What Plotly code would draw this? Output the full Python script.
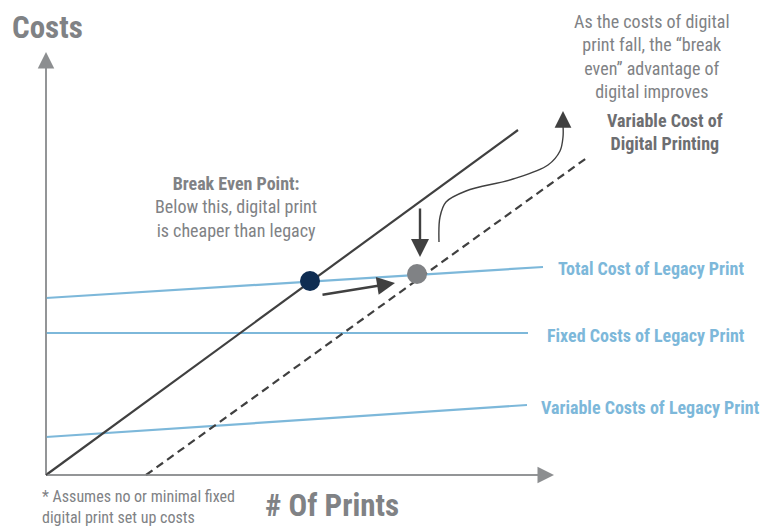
import plotly.graph_objects as go

# Conceptual coordinates: x = number of prints, y = costs (arbitrary units)
axis_x_end = 508
axis_y_end = 423

digital_x = [0, 472]
digital_y = [0, 345]
digital_new_x = [100, 542]
digital_new_y = [0, 318]

legacy_total_x = [0, 497]
legacy_total_y = [177, 208]
legacy_fixed_x = [0, 482]
legacy_fixed_y = [142, 142]
legacy_var_x = [0, 481]
legacy_var_y = [38, 70]

break_even = (264, 194)
break_even_new = (371, 201)

shift_down = {"x": [374, 374], "y": [268, 218]}
shift_right = {"x": [275, 349], "y": [180, 192]}
curve_x = [393, 394, 400, 420, 467, 502, 514, 517, 517]
curve_y = [233, 258, 273, 284, 296, 310, 324, 338, 350]
curve_tip = (517, 364)

FONT = "Liberation Sans Narrow, Roboto Condensed, Arial Narrow, sans-serif"
GRAY = "#808285"
AXIS = "#8c8e90"
DARK = "#404040"
BLUE = "#7db8da"
NAVY = "#0f2d52"

fig = go.Figure()

# axes
fig.add_trace(go.Scatter(x=[0, axis_x_end - 12], y=[0, 0], mode="lines",
                         line=dict(color=AXIS, width=1.5), hoverinfo="skip"))
fig.add_trace(go.Scatter(x=[0, 0], y=[0, axis_y_end - 12], mode="lines",
                         line=dict(color=AXIS, width=1.5), hoverinfo="skip"))

# legacy lines
for xs, ys in [(legacy_total_x, legacy_total_y), (legacy_fixed_x, legacy_fixed_y),
               (legacy_var_x, legacy_var_y)]:
    fig.add_trace(go.Scatter(x=xs, y=ys, mode="lines",
                             line=dict(color=BLUE, width=2.2), hoverinfo="skip"))

# digital lines
fig.add_trace(go.Scatter(x=digital_x, y=digital_y, mode="lines",
                         line=dict(color=DARK, width=2.2), hoverinfo="skip"))
fig.add_trace(go.Scatter(x=digital_new_x, y=digital_new_y, mode="lines",
                         line=dict(color=DARK, width=2.2, dash="8px,5px"), hoverinfo="skip"))

# curved arrow line
fig.add_trace(go.Scatter(x=curve_x, y=curve_y, mode="lines",
                         line=dict(color=DARK, width=1.4, shape="spline", smoothing=1.0),
                         hoverinfo="skip"))

# points
fig.add_trace(go.Scatter(x=[break_even[0]], y=[break_even[1]], mode="markers",
                         marker=dict(color=NAVY, size=20), hoverinfo="skip"))
fig.add_trace(go.Scatter(x=[break_even_new[0]], y=[break_even_new[1]], mode="markers",
                         marker=dict(color=GRAY, size=20), hoverinfo="skip"))

ann = []
def arrow(x0, y0, x1, y1, color, width, size):
    ann.append(dict(x=x1, y=y1, ax=x0, ay=y0, xref="x", yref="y", axref="x", ayref="y",
                    showarrow=True, arrowhead=2, arrowsize=size, arrowwidth=width,
                    arrowcolor=color, text="", standoff=0, startstandoff=0))

arrow(0, 0, axis_x_end, 0, AXIS, 1.5, 2.2)
arrow(0, 0, 0, axis_y_end, AXIS, 1.5, 2.2)
arrow(shift_down["x"][0], shift_down["y"][0], shift_down["x"][1], shift_down["y"][1], DARK, 2.4, 1.5)
arrow(shift_right["x"][0], shift_right["y"][0], shift_right["x"][1], shift_right["y"][1], DARK, 2.4, 1.5)
arrow(curve_x[-1], curve_y[-1], curve_tip[0], curve_tip[1], DARK, 1.4, 2.4)

def text(x, y, t, size, color, anchor="center", weight="normal"):
    ann.append(dict(x=x, y=y, xref="x", yref="y", text=t, showarrow=False,
                    xanchor=anchor, yanchor="middle", align=anchor if anchor != "center" else "center",
                    font=dict(family=FONT, size=size, color=color, weight=weight)))

text(-36, 448, "Costs", 31, GRAY, "left", "bold")
text(286, -30, "# Of Prints", 31, GRAY, "center", "bold")
text(-6, -32, "* Assumes no or minimal fixed<br>digital print set up costs", 16, GRAY, "left")
text(606, 419, "As the costs of digital<br>print fall, the “break<br>even” advantage of<br>digital improves", 18, GRAY)
text(619, 343, "Variable Cost of<br>Digital Printing", 18, "#6d6e71", "center", "bold")
text(190, 268, "<b>Break Even Point:</b><br>Below this, digital print<br>is cheaper than legacy", 18, GRAY)
text(510, 207, "Total Cost of Legacy Print", 18, BLUE, "left", "bold")
text(499, 140, "Fixed Costs of Legacy Print", 18, BLUE, "left", "bold")
text(493, 68, "Variable Costs of Legacy Print", 18, BLUE, "left", "bold")

# page has an 8px body margin: figure is placed at (8, 8)
fig.update_layout(
    width=761, height=521,
    margin=dict(l=0, r=0, t=0, b=0),
    paper_bgcolor="white", plot_bgcolor="white",
    showlegend=False,
    xaxis=dict(range=[-38, 723], visible=False, fixedrange=True),
    yaxis=dict(range=[-54, 467], visible=False, fixedrange=True),
    annotations=ann,
)

fig.write_html("out.html")
